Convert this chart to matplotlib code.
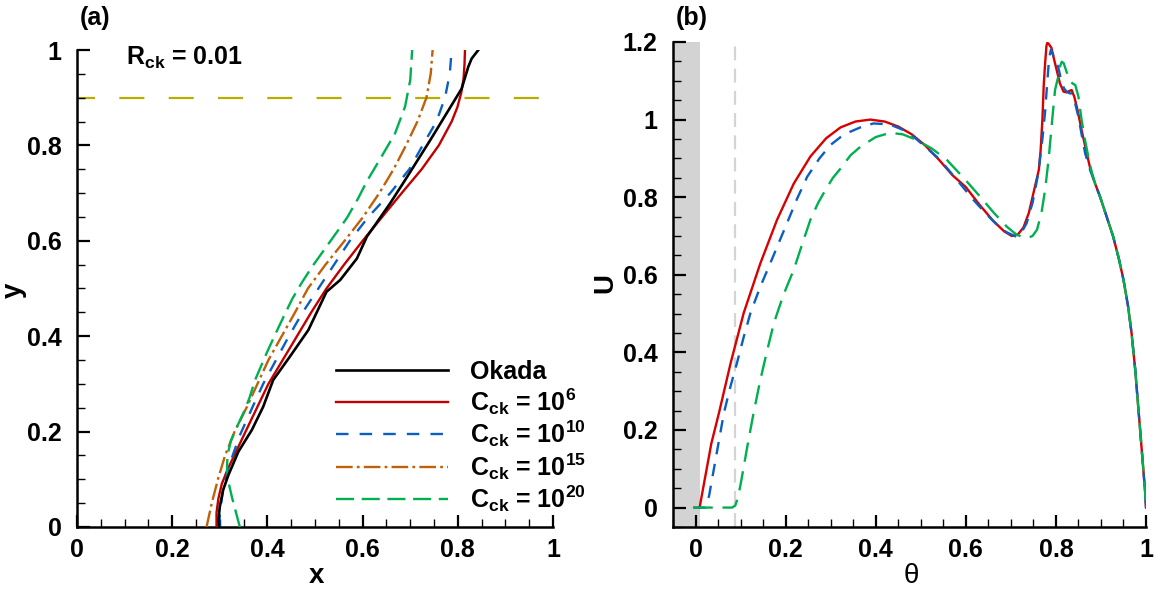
import matplotlib
matplotlib.use('Agg')
import matplotlib.pyplot as plt
from matplotlib.ticker import MultipleLocator, FuncFormatter

# ---- (a) interface position, R_ck = 0.01 ----
okada_x = [0.298, 0.297, 0.300, 0.307, 0.318, 0.339, 0.367, 0.391, 0.412, 0.447, 0.486,
           0.524, 0.553, 0.588, 0.609, 0.626, 0.658, 0.689, 0.742, 0.808, 0.822, 0.829, 0.843]
okada_y = [0.000, 0.015, 0.043, 0.078, 0.109, 0.158, 0.203, 0.252, 0.308, 0.357, 0.413,
           0.493, 0.518, 0.563, 0.609, 0.633, 0.679, 0.727, 0.811, 0.919, 0.965, 0.982, 1.000]

c6_x = [0.293, 0.293, 0.297, 0.304, 0.316, 0.335, 0.354, 0.378, 0.402, 0.432, 0.462, 0.492,
        0.524, 0.561, 0.600, 0.641, 0.682, 0.724, 0.760, 0.787, 0.799, 0.807, 0.812, 0.814, 0.815]
c6_y = [0.00, 0.03, 0.06, 0.09, 0.12, 0.16, 0.20, 0.25, 0.30, 0.35, 0.40, 0.45,
        0.50, 0.55, 0.60, 0.65, 0.70, 0.75, 0.80, 0.85, 0.88, 0.91, 0.94, 0.97, 1.00]

c10_x = [0.299, 0.300, 0.307, 0.320, 0.341, 0.368, 0.391, 0.418, 0.445, 0.474, 0.507, 0.540,
         0.573, 0.612, 0.658, 0.698, 0.726, 0.755, 0.773, 0.783, 0.787]
c10_y = [0.00, 0.03, 0.08, 0.13, 0.19, 0.25, 0.30, 0.35, 0.40, 0.45, 0.50, 0.55,
         0.60, 0.65, 0.70, 0.75, 0.80, 0.85, 0.90, 0.95, 1.00]

c15_x = [0.272, 0.283, 0.296, 0.311, 0.331, 0.356, 0.379, 0.402, 0.430, 0.458, 0.485, 0.522,
         0.562, 0.601, 0.635, 0.665, 0.691, 0.715, 0.734, 0.743, 0.747]
c15_y = [0.00, 0.05, 0.10, 0.15, 0.20, 0.25, 0.30, 0.35, 0.40, 0.45, 0.50, 0.55,
         0.60, 0.65, 0.70, 0.75, 0.80, 0.85, 0.90, 0.95, 1.00]

c20_x = [0.342, 0.334, 0.326, 0.319, 0.315, 0.316, 0.323, 0.336, 0.350, 0.362, 0.374, 0.386,
         0.398, 0.416, 0.434, 0.452, 0.472, 0.494, 0.517, 0.542, 0.567, 0.590, 0.609, 0.637,
         0.668, 0.689, 0.700, 0.704]
c20_y = [0.000, 0.030, 0.060, 0.090, 0.120, 0.150, 0.180, 0.210, 0.240, 0.270, 0.308, 0.336,
         0.364, 0.403, 0.441, 0.478, 0.512, 0.546, 0.578, 0.613, 0.648, 0.688, 0.725, 0.772,
         0.825, 0.881, 0.937, 1.000]

y_ref = 0.9
y_ref_xmax = 0.97

# ---- (b) velocity profiles ----
r_theta = [0.009, 0.020, 0.035, 0.052, 0.078, 0.107, 0.144, 0.181, 0.218, 0.255, 0.290, 0.322,
           0.355, 0.388, 0.420, 0.450, 0.480, 0.510, 0.540, 0.570, 0.600, 0.630, 0.660, 0.685,
           0.702, 0.715, 0.728, 0.740, 0.752, 0.762, 0.766, 0.770, 0.773, 0.776, 0.779, 0.781,
           0.784, 0.790, 0.798, 0.809, 0.817, 0.824, 0.830, 0.835, 0.841, 0.848, 0.857, 0.869,
           0.876, 0.887, 0.898, 0.912, 0.927, 0.940, 0.950, 0.960, 0.968, 0.976, 0.982, 0.988,
           0.994, 0.998, 1.000]
r_u = [0.000, 0.070, 0.165, 0.244, 0.373, 0.502, 0.630, 0.742, 0.835, 0.905, 0.952, 0.980,
       0.995, 1.000, 0.995, 0.982, 0.962, 0.933, 0.897, 0.857, 0.826, 0.781, 0.740, 0.712,
       0.700, 0.703, 0.722, 0.760, 0.820, 0.870, 0.920, 1.000, 1.090, 1.145, 1.190, 1.198,
       1.195, 1.185, 1.145, 1.093, 1.072, 1.070, 1.074, 1.076, 1.058, 1.025, 0.973, 0.910,
       0.875, 0.835, 0.801, 0.752, 0.699, 0.640, 0.587, 0.520, 0.449, 0.356, 0.270, 0.185,
       0.099, 0.040, 0.000]

b_theta = [-0.005, 0.022, 0.030, 0.040, 0.050, 0.063, 0.077, 0.092, 0.107, 0.122, 0.144, 0.166,
           0.185, 0.203, 0.225, 0.248, 0.275, 0.300, 0.322, 0.344, 0.370, 0.395, 0.430, 0.462,
           0.490, 0.515, 0.543, 0.580, 0.617, 0.645, 0.669, 0.690, 0.710, 0.723, 0.735, 0.748,
           0.761, 0.770, 0.776, 0.781, 0.785, 0.789, 0.794, 0.800, 0.805, 0.812, 0.818, 0.824,
           0.830, 0.835, 0.842, 0.850, 0.857, 0.865, 0.876, 0.887, 0.898, 0.912, 0.927, 0.940,
           0.950, 0.960, 0.968, 0.976, 0.982, 0.988, 0.994, 0.998, 1.000]
b_u = [0.000, 0.000, 0.030, 0.095, 0.160, 0.244, 0.310, 0.373, 0.440, 0.502, 0.570, 0.630,
       0.683, 0.733, 0.795, 0.853, 0.900, 0.935, 0.955, 0.969, 0.982, 0.990, 0.988, 0.973,
       0.950, 0.925, 0.896, 0.845, 0.793, 0.757, 0.729, 0.710, 0.699, 0.708, 0.733, 0.785,
       0.862, 0.950, 1.020, 1.100, 1.160, 1.180, 1.166, 1.148, 1.136, 1.100, 1.080, 1.072,
       1.068, 1.067, 1.045, 1.007, 0.962, 0.913, 0.870, 0.835, 0.801, 0.752, 0.699, 0.640,
       0.587, 0.520, 0.449, 0.356, 0.270, 0.185, 0.099, 0.040, 0.000]

g_theta = [-0.005, 0.081, 0.088, 0.094, 0.100, 0.107, 0.115, 0.129, 0.144, 0.159, 0.174, 0.195,
           0.218, 0.237, 0.255, 0.272, 0.290, 0.305, 0.322, 0.344, 0.366, 0.400, 0.432, 0.460,
           0.492, 0.525, 0.558, 0.595, 0.632, 0.662, 0.691, 0.713, 0.735, 0.748, 0.758, 0.768,
           0.776, 0.784, 0.791, 0.798, 0.806, 0.810, 0.813, 0.817, 0.820, 0.826, 0.831, 0.837,
           0.843, 0.850, 0.857, 0.865, 0.872, 0.880, 0.887, 0.898, 0.912, 0.927, 0.940, 0.950,
           0.960, 0.968, 0.976, 0.982, 0.988, 0.994, 0.998, 1.000]
g_u = [0.000, 0.000, 0.005, 0.025, 0.060, 0.105, 0.158, 0.245, 0.330, 0.405, 0.476, 0.548,
       0.613, 0.680, 0.742, 0.785, 0.822, 0.850, 0.874, 0.908, 0.930, 0.955, 0.966, 0.962,
       0.947, 0.925, 0.896, 0.850, 0.801, 0.760, 0.724, 0.703, 0.694, 0.700, 0.716, 0.760,
       0.819, 0.900, 0.990, 1.076, 1.115, 1.140, 1.149, 1.146, 1.136, 1.115, 1.100, 1.093,
       1.089, 1.059, 0.999, 0.945, 0.904, 0.862, 0.835, 0.801, 0.752, 0.699, 0.640, 0.587,
       0.520, 0.449, 0.356, 0.270, 0.185, 0.099, 0.040, 0.000]

shade_range = [-0.05, 0.01]
theta_ref = 0.087

RED = '#c00000'
BLUE = '#0a5fc0'
BROWN = '#c0600a'
GREEN = '#00b050'

plt.rcParams.update({
    'font.family': ['Liberation Sans', 'DejaVu Sans'],
    'font.weight': 'bold',
    'axes.labelweight': 'bold',
    'mathtext.fontset': 'custom',
    'mathtext.rm': 'Liberation Sans:bold',
    'mathtext.bf': 'Liberation Sans:bold',
    'mathtext.it': 'Liberation Sans:bold',
    'mathtext.default': 'bf',
    'lines.scale_dashes': False,
    'axes.linewidth': 1.8,
})

fmt = FuncFormatter(lambda v, p: '%g' % (round(v, 6) + 0.0))


def style(ax):
    for s in ['top', 'right']:
        ax.spines[s].set_visible(False)
    for axis in (ax.xaxis, ax.yaxis):
        axis.set_major_locator(MultipleLocator(0.2))
        axis.set_minor_locator(MultipleLocator(0.05))
        axis.set_major_formatter(fmt)
    ax.tick_params(which='major', direction='in', length=9, width=1.6,
                   labelsize=18, top=False, right=False)
    ax.tick_params(axis='y', which='major', pad=11)
    ax.tick_params(axis='x', which='major', pad=8)
    ax.tick_params(which='minor', direction='in', length=5.5, width=1.0,
                   top=False, right=False)


fig = plt.figure(figsize=(11.57, 5.89), dpi=100)
ax1 = fig.add_axes([0.0666, 0.1053, 0.4114, 0.8098])
ax2 = fig.add_axes([0.5817, 0.1053, 0.4088, 0.8234])

# panel (a)
ax1.hlines(y_ref, 0, y_ref_xmax, colors='#b5ae00', linewidth=1.6,
           linestyles=[(5, (18, 17.5))], zorder=1)
ax1.plot(okada_x, okada_y, color='black', lw=1.9, label='Okada', zorder=4)
ax1.plot(c6_x, c6_y, color=RED, lw=1.7, label=r'C$_{ck}$ = 10$^{6}$', zorder=3)
ax1.plot(c10_x, c10_y, color=BLUE, lw=1.7, dashes=(9, 8), label=r'C$_{ck}$ = 10$^{10}$', zorder=3)
ax1.plot(c15_x, c15_y, color=BROWN, lw=1.7, dashes=(12, 3, 2, 3), label=r'C$_{ck}$ = 10$^{15}$', zorder=3)
ax1.plot(c20_x, c20_y, color=GREEN, lw=1.7, dashes=(13, 5.5), label=r'C$_{ck}$ = 10$^{20}$', zorder=3)
ax1.set_xlim(0, 1)
ax1.set_ylim(0, 1)
style(ax1)
ax1.legend(loc='upper left', bbox_to_anchor=(0.544, 0.35), frameon=False, fontsize=18,
           handlelength=4.5, handletextpad=0.85, labelspacing=0.08,
           borderpad=0, borderaxespad=0)
ax1.text(0.103, 0.983, r'R$_{ck}$ = 0.01', transform=ax1.transAxes, fontsize=18,
         va='center', ha='left')
ax1.set_xlabel('x', fontsize=20)
ax1.xaxis.set_label_coords(0.502, -0.075)
ax1.set_ylabel('y', fontsize=20)
ax1.yaxis.set_label_coords(-0.105, 0.497)

# panel (b)
ax2.axvspan(shade_range[0], shade_range[1], color='#d3d3d3', lw=0, zorder=0)
ax2.axvline(theta_ref, color='#d4d4d4', lw=1.6, dashes=(10, 6), zorder=1)
ax2.plot(r_theta, r_u, color='#d80000', lw=1.7, zorder=3)
ax2.plot(b_theta, b_u, color=BLUE, lw=1.7, dashes=(9, 7), zorder=3)
ax2.plot(g_theta, g_u, color=GREEN, lw=1.7, dashes=(14, 7), zorder=3)
ax2.set_xlim(-0.05, 1)
ax2.set_ylim(-0.05, 1.2)
style(ax2)
ax2.set_xlabel('θ', fontsize=20, fontweight='normal')
ax2.xaxis.set_label_coords(0.503, -0.075)
ax2.set_ylabel('U', fontsize=20)
ax2.yaxis.set_label_coords(-0.115, 0.503)

fig.text(0.069, 0.969, '(a)', fontsize=18, va='center')
fig.text(0.584, 0.969, '(b)', fontsize=18, va='center')

fig.savefig('out.png', dpi=100)
